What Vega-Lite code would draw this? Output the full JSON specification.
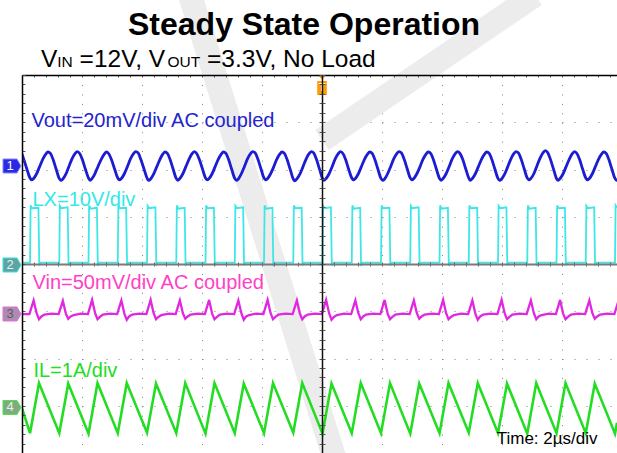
{
"$schema": "https://vega.github.io/schema/vega-lite/v6.json",
"width": 595, "height": 378,
"autosize": {"type": "none"},
"padding": {"left": 22, "top": 75, "right": 0, "bottom": 0},
"background": "#ffffff",
"config": {"view": {"stroke": null}, "text": {"font": "Liberation Sans"}},
"datasets": {
"mark": [{"g":"a","t":-4.4,"v":5.693},{"g":"a","t":0.433,"v":-4.148},{"g":"b","t":7.1,"v":5.693},{"g":"b","t":0,"v":2.624}],
"lx": [{"t":-10,"v":0.03},
{"t":-9.733,"v":0.03},{"t":-9.713,"v":1.24},{"t":-9.663,"v":1.18},{"t":-9.453,"v":1.19},{"t":-9.423,"v":-0.03},{"t":-9.373,"v":0.03},
{"t":-8.758,"v":0.03},{"t":-8.738,"v":1.23},{"t":-8.688,"v":1.18},{"t":-8.478,"v":1.2},{"t":-8.448,"v":-0.03},{"t":-8.398,"v":0.03},
{"t":-7.783,"v":0.03},{"t":-7.763,"v":1.24},{"t":-7.713,"v":1.17},{"t":-7.503,"v":1.19},{"t":-7.473,"v":-0.04},{"t":-7.423,"v":0.03},
{"t":-6.808,"v":0.03},{"t":-6.788,"v":1.24},{"t":-6.738,"v":1.18},{"t":-6.528,"v":1.19},{"t":-6.498,"v":-0.03},{"t":-6.448,"v":0.03},
{"t":-5.833,"v":0.03},{"t":-5.813,"v":1.23},{"t":-5.763,"v":1.18},{"t":-5.553,"v":1.2},{"t":-5.523,"v":-0.03},{"t":-5.473,"v":0.03},
{"t":-4.858,"v":0.03},{"t":-4.838,"v":1.24},{"t":-4.788,"v":1.17},{"t":-4.578,"v":1.19},{"t":-4.548,"v":-0.04},{"t":-4.498,"v":0.03},
{"t":-3.883,"v":0.03},{"t":-3.863,"v":1.24},{"t":-3.813,"v":1.18},{"t":-3.603,"v":1.19},{"t":-3.573,"v":-0.03},{"t":-3.523,"v":0.03},
{"t":-2.908,"v":0.03},{"t":-2.888,"v":1.23},{"t":-2.838,"v":1.18},{"t":-2.628,"v":1.2},{"t":-2.598,"v":-0.03},{"t":-2.548,"v":0.03},
{"t":-1.933,"v":0.03},{"t":-1.913,"v":1.24},{"t":-1.863,"v":1.17},{"t":-1.653,"v":1.19},{"t":-1.623,"v":-0.04},{"t":-1.573,"v":0.03},
{"t":-0.958,"v":0.03},{"t":-0.938,"v":1.24},{"t":-0.888,"v":1.18},{"t":-0.678,"v":1.19},{"t":-0.648,"v":-0.03},{"t":-0.598,"v":0.03},
{"t":0.017,"v":0.03},{"t":0.037,"v":1.23},{"t":0.087,"v":1.18},{"t":0.297,"v":1.2},{"t":0.327,"v":-0.03},{"t":0.377,"v":0.03},
{"t":0.992,"v":0.03},{"t":1.012,"v":1.24},{"t":1.062,"v":1.17},{"t":1.272,"v":1.19},{"t":1.302,"v":-0.04},{"t":1.352,"v":0.03},
{"t":1.967,"v":0.03},{"t":1.987,"v":1.24},{"t":2.037,"v":1.18},{"t":2.247,"v":1.19},{"t":2.277,"v":-0.03},{"t":2.327,"v":0.03},
{"t":2.942,"v":0.03},{"t":2.962,"v":1.23},{"t":3.012,"v":1.18},{"t":3.222,"v":1.2},{"t":3.252,"v":-0.03},{"t":3.302,"v":0.03},
{"t":3.917,"v":0.03},{"t":3.937,"v":1.24},{"t":3.987,"v":1.17},{"t":4.197,"v":1.19},{"t":4.227,"v":-0.04},{"t":4.277,"v":0.03},
{"t":4.892,"v":0.03},{"t":4.912,"v":1.24},{"t":4.962,"v":1.18},{"t":5.172,"v":1.19},{"t":5.202,"v":-0.03},{"t":5.252,"v":0.03},
{"t":5.867,"v":0.03},{"t":5.887,"v":1.23},{"t":5.937,"v":1.18},{"t":6.147,"v":1.2},{"t":6.177,"v":-0.03},{"t":6.227,"v":0.03},
{"t":6.842,"v":0.03},{"t":6.862,"v":1.24},{"t":6.912,"v":1.17},{"t":7.122,"v":1.19},{"t":7.152,"v":-0.04},{"t":7.202,"v":0.03},
{"t":7.817,"v":0.03},{"t":7.837,"v":1.24},{"t":7.887,"v":1.18},{"t":8.097,"v":1.19},{"t":8.127,"v":-0.03},{"t":8.177,"v":0.03},
{"t":8.792,"v":0.03},{"t":8.812,"v":1.23},{"t":8.862,"v":1.18},{"t":9.072,"v":1.2},{"t":9.102,"v":-0.03},{"t":9.152,"v":0.03},
{"t":9.767,"v":0.03},{"t":9.787,"v":1.24},{"t":9.833,"v":1.19}],
"il": [{"t":-10,"v":-3.05},
{"t":-9.733,"v":-3.58},{"t":-9.433,"v":-2.52},{"t":-8.758,"v":-3.58},{"t":-8.458,"v":-2.53},{"t":-7.783,"v":-3.59},{"t":-7.483,"v":-2.52},
{"t":-6.808,"v":-3.58},{"t":-6.508,"v":-2.52},{"t":-5.833,"v":-3.57},{"t":-5.533,"v":-2.53},{"t":-4.858,"v":-3.58},{"t":-4.558,"v":-2.52},
{"t":-3.883,"v":-3.59},{"t":-3.583,"v":-2.52},{"t":-2.908,"v":-3.58},{"t":-2.608,"v":-2.53},{"t":-1.933,"v":-3.58},{"t":-1.633,"v":-2.52},
{"t":-0.958,"v":-3.57},{"t":-0.658,"v":-2.52},{"t":0.017,"v":-3.59},{"t":0.317,"v":-2.53},{"t":0.992,"v":-3.58},{"t":1.292,"v":-2.52},
{"t":1.967,"v":-3.58},{"t":2.267,"v":-2.52},{"t":2.942,"v":-3.59},{"t":3.242,"v":-2.53},{"t":3.917,"v":-3.58},{"t":4.217,"v":-2.52},
{"t":4.892,"v":-3.57},{"t":5.192,"v":-2.52},{"t":5.867,"v":-3.58},{"t":6.167,"v":-2.53},{"t":6.842,"v":-3.59},{"t":7.142,"v":-2.52},
{"t":7.817,"v":-3.58},{"t":8.117,"v":-2.52},{"t":8.792,"v":-3.58},{"t":9.092,"v":-2.53},{"t":9.767,"v":-3.59},{"t":9.833,"v":-3.36}],
"vin": [{"t":-10,"v":-1.06},
{"t":-9.753,"v":-1.06},{"t":-9.613,"v":-0.77},{"t":-9.513,"v":-1.04},{"t":-9.433,"v":-1.17},{"t":-9.353,"v":-1.11},{"t":-9.253,"v":-1.07},{"t":-9.013,"v":-1.05},
{"t":-8.778,"v":-1.06},{"t":-8.638,"v":-0.78},{"t":-8.538,"v":-1.05},{"t":-8.458,"v":-1.16},{"t":-8.378,"v":-1.11},{"t":-8.278,"v":-1.08},{"t":-8.038,"v":-1.05},
{"t":-7.803,"v":-1.06},{"t":-7.663,"v":-0.76},{"t":-7.563,"v":-1.04},{"t":-7.483,"v":-1.17},{"t":-7.403,"v":-1.12},{"t":-7.303,"v":-1.07},{"t":-7.063,"v":-1.05},
{"t":-6.828,"v":-1.06},{"t":-6.688,"v":-0.77},{"t":-6.588,"v":-1.05},{"t":-6.508,"v":-1.18},{"t":-6.428,"v":-1.11},{"t":-6.328,"v":-1.07},{"t":-6.088,"v":-1.05},
{"t":-5.853,"v":-1.06},{"t":-5.713,"v":-0.76},{"t":-5.613,"v":-1.04},{"t":-5.533,"v":-1.17},{"t":-5.453,"v":-1.12},{"t":-5.353,"v":-1.08},{"t":-5.113,"v":-1.05},
{"t":-4.878,"v":-1.06},{"t":-4.738,"v":-0.77},{"t":-4.638,"v":-1.04},{"t":-4.558,"v":-1.16},{"t":-4.478,"v":-1.11},{"t":-4.378,"v":-1.07},{"t":-4.138,"v":-1.05},
{"t":-3.903,"v":-1.06},{"t":-3.763,"v":-0.76},{"t":-3.663,"v":-1.05},{"t":-3.583,"v":-1.17},{"t":-3.503,"v":-1.12},{"t":-3.403,"v":-1.07},{"t":-3.163,"v":-1.05},
{"t":-2.928,"v":-1.06},{"t":-2.788,"v":-0.77},{"t":-2.688,"v":-1.04},{"t":-2.608,"v":-1.18},{"t":-2.528,"v":-1.11},{"t":-2.428,"v":-1.08},{"t":-2.188,"v":-1.05},
{"t":-1.953,"v":-1.06},{"t":-1.813,"v":-0.76},{"t":-1.713,"v":-1.04},{"t":-1.633,"v":-1.17},{"t":-1.553,"v":-1.12},{"t":-1.453,"v":-1.07},{"t":-1.213,"v":-1.05},
{"t":-0.978,"v":-1.06},{"t":-0.838,"v":-0.77},{"t":-0.738,"v":-1.05},{"t":-0.658,"v":-1.17},{"t":-0.578,"v":-1.11},{"t":-0.478,"v":-1.07},{"t":-0.238,"v":-1.05},
{"t":-0.003,"v":-1.06},{"t":0.137,"v":-0.76},{"t":0.237,"v":-1.04},{"t":0.317,"v":-1.18},{"t":0.397,"v":-1.12},{"t":0.497,"v":-1.08},{"t":0.737,"v":-1.05},
{"t":0.972,"v":-1.06},{"t":1.112,"v":-0.77},{"t":1.212,"v":-1.04},{"t":1.292,"v":-1.17},{"t":1.372,"v":-1.11},{"t":1.472,"v":-1.07},{"t":1.712,"v":-1.05},
{"t":1.947,"v":-1.06},{"t":2.087,"v":-0.76},{"t":2.187,"v":-1.05},{"t":2.267,"v":-1.17},{"t":2.347,"v":-1.12},{"t":2.447,"v":-1.07},{"t":2.687,"v":-1.05},
{"t":2.922,"v":-1.06},{"t":3.062,"v":-0.77},{"t":3.162,"v":-1.04},{"t":3.242,"v":-1.16},{"t":3.322,"v":-1.11},{"t":3.422,"v":-1.07},{"t":3.662,"v":-1.05},
{"t":3.897,"v":-1.06},{"t":4.037,"v":-0.76},{"t":4.137,"v":-1.04},{"t":4.217,"v":-1.17},{"t":4.297,"v":-1.12},{"t":4.397,"v":-1.08},{"t":4.637,"v":-1.05},
{"t":4.872,"v":-1.06},{"t":5.012,"v":-0.77},{"t":5.112,"v":-1.05},{"t":5.192,"v":-1.18},{"t":5.272,"v":-1.11},{"t":5.372,"v":-1.07},{"t":5.612,"v":-1.05},
{"t":5.847,"v":-1.06},{"t":5.987,"v":-0.76},{"t":6.087,"v":-1.04},{"t":6.167,"v":-1.17},{"t":6.247,"v":-1.12},{"t":6.347,"v":-1.07},{"t":6.587,"v":-1.05},
{"t":6.822,"v":-1.06},{"t":6.962,"v":-0.77},{"t":7.062,"v":-1.04},{"t":7.142,"v":-1.17},{"t":7.222,"v":-1.11},{"t":7.322,"v":-1.08},{"t":7.562,"v":-1.05},
{"t":7.797,"v":-1.06},{"t":7.937,"v":-0.76},{"t":8.037,"v":-1.05},{"t":8.117,"v":-1.17},{"t":8.197,"v":-1.12},{"t":8.297,"v":-1.07},{"t":8.537,"v":-1.05},
{"t":8.772,"v":-1.06},{"t":8.912,"v":-0.77},{"t":9.012,"v":-1.04},{"t":9.092,"v":-1.16},{"t":9.172,"v":-1.11},{"t":9.272,"v":-1.07},{"t":9.512,"v":-1.05},
{"t":9.747,"v":-1.06},{"t":9.887,"v":-0.77}],
"vout": [{"t":-10,"v":2.33},{"t":-9.938,"v":2.21},{"t":-9.838,"v":2.01},
{"t":-9.733,"v":1.82},{"t":-9.683,"v":1.78},{"t":-9.613,"v":1.81},{"t":-9.513,"v":1.91},{"t":-9.413,"v":2.06},{"t":-9.313,"v":2.21},{"t":-9.213,"v":2.32},{"t":-9.133,"v":2.37},{"t":-9.053,"v":2.34},{"t":-8.963,"v":2.21},{"t":-8.863,"v":2.01},
{"t":-8.758,"v":1.81},{"t":-8.708,"v":1.77},{"t":-8.638,"v":1.8},{"t":-8.538,"v":1.9},{"t":-8.438,"v":2.06},{"t":-8.338,"v":2.22},{"t":-8.238,"v":2.33},{"t":-8.158,"v":2.38},{"t":-8.078,"v":2.34},{"t":-7.988,"v":2.21},{"t":-7.888,"v":2.01},
{"t":-7.783,"v":1.82},{"t":-7.733,"v":1.77},{"t":-7.663,"v":1.81},{"t":-7.563,"v":1.92},{"t":-7.463,"v":2.07},{"t":-7.363,"v":2.21},{"t":-7.263,"v":2.32},{"t":-7.183,"v":2.37},{"t":-7.103,"v":2.33},{"t":-7.013,"v":2.2},{"t":-6.913,"v":2.01},
{"t":-6.808,"v":1.82},{"t":-6.758,"v":1.78},{"t":-6.688,"v":1.81},{"t":-6.588,"v":1.91},{"t":-6.488,"v":2.06},{"t":-6.388,"v":2.22},{"t":-6.288,"v":2.33},{"t":-6.208,"v":2.38},{"t":-6.128,"v":2.35},{"t":-6.038,"v":2.21},{"t":-5.938,"v":2.02},
{"t":-5.833,"v":1.82},{"t":-5.783,"v":1.77},{"t":-5.713,"v":1.8},{"t":-5.613,"v":1.9},{"t":-5.513,"v":2.05},{"t":-5.413,"v":2.2},{"t":-5.313,"v":2.32},{"t":-5.233,"v":2.37},{"t":-5.153,"v":2.34},{"t":-5.063,"v":2.21},{"t":-4.963,"v":2.01},
{"t":-4.858,"v":1.81},{"t":-4.808,"v":1.77},{"t":-4.738,"v":1.81},{"t":-4.638,"v":1.91},{"t":-4.538,"v":2.06},{"t":-4.438,"v":2.21},{"t":-4.338,"v":2.33},{"t":-4.258,"v":2.38},{"t":-4.178,"v":2.34},{"t":-4.088,"v":2.21},{"t":-3.988,"v":2.02},
{"t":-3.883,"v":1.82},{"t":-3.833,"v":1.78},{"t":-3.763,"v":1.81},{"t":-3.663,"v":1.91},{"t":-3.563,"v":2.06},{"t":-3.463,"v":2.21},{"t":-3.363,"v":2.32},{"t":-3.283,"v":2.37},{"t":-3.203,"v":2.34},{"t":-3.113,"v":2.21},{"t":-3.013,"v":2.01},
{"t":-2.908,"v":1.81},{"t":-2.858,"v":1.77},{"t":-2.788,"v":1.8},{"t":-2.688,"v":1.91},{"t":-2.588,"v":2.06},{"t":-2.488,"v":2.22},{"t":-2.388,"v":2.33},{"t":-2.308,"v":2.38},{"t":-2.228,"v":2.35},{"t":-2.138,"v":2.22},{"t":-2.038,"v":2.02},
{"t":-1.933,"v":1.82},{"t":-1.883,"v":1.78},{"t":-1.813,"v":1.81},{"t":-1.713,"v":1.91},{"t":-1.613,"v":2.05},{"t":-1.513,"v":2.21},{"t":-1.413,"v":2.32},{"t":-1.333,"v":2.37},{"t":-1.253,"v":2.34},{"t":-1.163,"v":2.21},{"t":-1.063,"v":2.01},
{"t":-0.958,"v":1.8},{"t":-0.908,"v":1.76},{"t":-0.838,"v":1.8},{"t":-0.738,"v":1.9},{"t":-0.638,"v":2.05},{"t":-0.538,"v":2.21},{"t":-0.438,"v":2.33},{"t":-0.358,"v":2.38},{"t":-0.278,"v":2.35},{"t":-0.188,"v":2.22},{"t":-0.088,"v":2.02},
{"t":0.017,"v":1.81},{"t":0.067,"v":1.77},{"t":0.137,"v":1.81},{"t":0.237,"v":1.91},{"t":0.337,"v":2.06},{"t":0.437,"v":2.22},{"t":0.537,"v":2.33},{"t":0.617,"v":2.38},{"t":0.697,"v":2.34},{"t":0.787,"v":2.21},{"t":0.887,"v":2.01},
{"t":0.992,"v":1.82},{"t":1.042,"v":1.78},{"t":1.112,"v":1.81},{"t":1.212,"v":1.91},{"t":1.312,"v":2.06},{"t":1.412,"v":2.21},{"t":1.512,"v":2.32},{"t":1.592,"v":2.37},{"t":1.672,"v":2.34},{"t":1.762,"v":2.21},{"t":1.862,"v":2.01},
{"t":1.967,"v":1.81},{"t":2.017,"v":1.77},{"t":2.087,"v":1.8},{"t":2.187,"v":1.91},{"t":2.287,"v":2.06},{"t":2.387,"v":2.22},{"t":2.487,"v":2.33},{"t":2.567,"v":2.38},{"t":2.647,"v":2.35},{"t":2.737,"v":2.22},{"t":2.837,"v":2.02},
{"t":2.942,"v":1.82},{"t":2.992,"v":1.78},{"t":3.062,"v":1.81},{"t":3.162,"v":1.91},{"t":3.262,"v":2.05},{"t":3.362,"v":2.21},{"t":3.462,"v":2.32},{"t":3.542,"v":2.37},{"t":3.622,"v":2.34},{"t":3.712,"v":2.21},{"t":3.812,"v":2.01},
{"t":3.917,"v":1.81},{"t":3.967,"v":1.77},{"t":4.037,"v":1.81},{"t":4.137,"v":1.91},{"t":4.237,"v":2.06},{"t":4.337,"v":2.22},{"t":4.437,"v":2.33},{"t":4.517,"v":2.38},{"t":4.597,"v":2.34},{"t":4.687,"v":2.22},{"t":4.787,"v":2.02},
{"t":4.892,"v":1.82},{"t":4.942,"v":1.77},{"t":5.012,"v":1.81},{"t":5.112,"v":1.91},{"t":5.212,"v":2.06},{"t":5.312,"v":2.21},{"t":5.412,"v":2.32},{"t":5.492,"v":2.37},{"t":5.572,"v":2.34},{"t":5.662,"v":2.21},{"t":5.762,"v":2.01},
{"t":5.867,"v":1.81},{"t":5.917,"v":1.77},{"t":5.987,"v":1.8},{"t":6.087,"v":1.9},{"t":6.187,"v":2.05},{"t":6.287,"v":2.21},{"t":6.387,"v":2.33},{"t":6.467,"v":2.38},{"t":6.547,"v":2.35},{"t":6.637,"v":2.22},{"t":6.737,"v":2.02},
{"t":6.842,"v":1.82},{"t":6.892,"v":1.78},{"t":6.962,"v":1.81},{"t":7.062,"v":1.91},{"t":7.162,"v":2.07},{"t":7.262,"v":2.23},{"t":7.362,"v":2.35},{"t":7.442,"v":2.4},{"t":7.522,"v":2.36},{"t":7.612,"v":2.22},{"t":7.712,"v":2.02},
{"t":7.817,"v":1.81},{"t":7.867,"v":1.77},{"t":7.937,"v":1.81},{"t":8.037,"v":1.91},{"t":8.137,"v":2.06},{"t":8.237,"v":2.21},{"t":8.337,"v":2.33},{"t":8.417,"v":2.38},{"t":8.497,"v":2.34},{"t":8.587,"v":2.21},{"t":8.687,"v":2.01},
{"t":8.792,"v":1.82},{"t":8.842,"v":1.78},{"t":8.912,"v":1.81},{"t":9.012,"v":1.91},{"t":9.112,"v":2.06},{"t":9.212,"v":2.21},{"t":9.312,"v":2.32},{"t":9.392,"v":2.37},{"t":9.472,"v":2.34},{"t":9.562,"v":2.21},{"t":9.662,"v":2.01},
{"t":9.767,"v":1.81},{"t":9.817,"v":1.77},{"t":9.887,"v":1.81}],
"labels": [{"t":-9.683,"v":2.91,"ch":"vout","txt":"Vout=20mV/div AC coupled"},{"t":-9.65,"v":1.228,"ch":"lx","txt":"LX=10V/div"},{"t":-9.65,"v":-0.529,"ch":"vin","txt":"Vin=50mV/div AC coupled"},{"t":-9.62,"v":-2.392,"ch":"il","txt":"IL=1A/div"}],
"timelabel": [{"t":5.823,"v":-3.81,"txt":"Time: 2µs/div"}],
"title": [{"t":-6.467,"v":4.857,"txt":"Steady State Operation"}],
"sub": [{"t":-9.367,"v":4.159,"txt":"V"},{"t":-8.08,"v":4.159,"txt":"=12V, V"},{"t":-3.833,"v":4.159,"txt":"=3.3V, No Load"}],
"subscript": [{"t":-8.823,"v":4.159,"txt":"IN"},{"t":-5.15,"v":4.159,"txt":"OUT"}],
"chmarks": [{"t":-10.333,"v":2.074,"ch":"1"},{"t":-10.333,"v":-0.021,"ch":"2"},{"t":-10.333,"v":-1.058,"ch":"3"},{"t":-10.333,"v":-3.037,"ch":"4"}],
"chnums": [{"t":-10.4,"v":2.074,"ch":"1"},{"t":-10.4,"v":-0.021,"ch":"2"},{"t":-10.4,"v":-1.058,"ch":"3"},{"t":-10.4,"v":-3.037,"ch":"4"}],
"trig": [{"t":0,"v":3.788,"txt":"T"}],
"trigtext": [{"t":0,"v":3.72,"txt":"T"}]
},
"encoding": {
"x": {"field": "t", "type": "quantitative", "scale": {"domain": [-10, 9.8333], "nice": false, "zero": false}, "axis": null},
"y": {"field": "v", "type": "quantitative", "scale": {"domain": [-4, 4], "nice": false, "zero": false}, "axis": null}
},
"layer": [
{"data": {"name": "mark"}, "mark": {"type": "line", "color": "#ececec", "strokeWidth": 24, "strokeCap": "butt", "clip": false},
 "encoding": {"detail": {"field": "g", "type": "nominal"}}},
{"data": {"name": "il"}, "mark": {"type": "line", "color": "#22dd22", "strokeWidth": 2.6, "clip": true},
 "encoding": {
 "x": {"field": "t", "type": "quantitative", "scale": {"domain": [-10, 9.8333], "nice": false, "zero": false},
  "axis": {"orient": "bottom", "values": [-8,-6,-4,-2,2,4,6,8], "grid": true, "gridColor": "#808080", "gridDash": [1, 8.45], "gridWidth": 1, "ticks": false, "labels": false, "domain": false, "title": null, "zindex": 0}},
 "y": {"field": "v", "type": "quantitative", "scale": {"domain": [-4, 4], "nice": false, "zero": false},
  "axis": {"orient": "left", "values": [-3,-2,-1,1,2,3], "grid": true, "gridColor": "#808080", "gridDash": [1, 11], "gridWidth": 1, "ticks": false, "labels": false, "domain": false, "title": null, "zindex": 0}}}},
{"data": {"name": "vin"}, "mark": {"type": "line", "color": "#e028e0", "strokeWidth": 2.3, "clip": true},
 "encoding": {
 "x": {"field": "t", "type": "quantitative", "scale": {"domain": [-10, 9.8333], "nice": false, "zero": false},
  "axis": {"orient": "bottom", "offset": -378, "values": [-10,-9.6,-9.2,-8.8,-8.4,-8,-7.6,-7.2,-6.8,-6.4,-6,-5.6,-5.2,-4.8,-4.4,-4,-3.6,-3.2,-2.8,-2.4,-2,-1.6,-1.2,-0.8,-0.4,0,0.4,0.8,1.2,1.6,2,2.4,2.8,3.2,3.6,4,4.4,4.8,5.2,5.6,6,6.4,6.8,7.2,7.6,8,8.4,8.8,9.2,9.6], "grid": false, "domain": true, "domainColor": "#000000", "domainWidth": 1.5, "ticks": true, "tickColor": "#555555", "tickSize": 2, "tickWidth": 1, "labels": false, "title": null, "zindex": 1}},
 "y": {"field": "v", "type": "quantitative", "scale": {"domain": [-4, 4], "nice": false, "zero": false},
  "axis": {"orient": "right", "offset": -595, "values": [-4,-3.8,-3.6,-3.4,-3.2,-3,-2.8,-2.6,-2.4,-2.2,-2,-1.8,-1.6,-1.4,-1.2,-1,-0.8,-0.6,-0.4,-0.2,0,0.2,0.4,0.6,0.8,1,1.2,1.4,1.6,1.8,2,2.2,2.4,2.6,2.8,3,3.2,3.4,3.6,3.8,4], "grid": false, "domain": true, "domainColor": "#000000", "domainWidth": 1.5, "ticks": true, "tickColor": "#555555", "tickSize": 3, "tickWidth": 1, "labels": false, "title": null, "zindex": 1}}}},
{"data": {"name": "lx"}, "mark": {"type": "line", "color": "#3fe6e6", "strokeWidth": 1.8, "clip": true},
 "encoding": {
 "x": {"field": "t", "type": "quantitative", "scale": {"domain": [-10, 9.8333], "nice": false, "zero": false},
  "axis": {"orient": "bottom", "offset": -189, "values": [-10,-9.6,-9.2,-8.8,-8.4,-8,-7.6,-7.2,-6.8,-6.4,-6,-5.6,-5.2,-4.8,-4.4,-4,-3.6,-3.2,-2.8,-2.4,-2,-1.6,-1.2,-0.8,-0.4,0,0.4,0.8,1.2,1.6,2,2.4,2.8,3.2,3.6,4,4.4,4.8,5.2,5.6,6,6.4,6.8,7.2,7.6,8,8.4,8.8,9.2,9.6], "grid": false, "domain": true, "domainColor": "#7a7a7a", "domainWidth": 2, "ticks": true, "tickColor": "#666666", "tickSize": 2, "tickWidth": 1, "labels": false, "title": null, "zindex": 1}},
 "y": {"field": "v", "type": "quantitative", "scale": {"domain": [-4, 4], "nice": false, "zero": false},
  "axis": {"orient": "left", "offset": -300, "values": [-4,-3.8,-3.6,-3.4,-3.2,-3,-2.8,-2.6,-2.4,-2.2,-2,-1.8,-1.6,-1.4,-1.2,-1,-0.8,-0.6,-0.4,-0.2,0,0.2,0.4,0.6,0.8,1,1.2,1.4,1.6,1.8,2,2.2,2.4,2.6,2.8,3,3.2,3.4,3.6,3.8,4], "grid": false, "domain": true, "domainColor": "#111111", "domainWidth": 1.5, "ticks": true, "tickColor": "#555555", "tickSize": 3, "tickWidth": 1, "labels": false, "title": null, "zindex": 1}}}},
{"data": {"name": "vout"}, "mark": {"type": "line", "color": "#1c1cd2", "strokeWidth": 2.8, "interpolate": "monotone", "clip": true},
 "encoding": {
 "x": {"field": "t", "type": "quantitative", "scale": {"domain": [-10, 9.8333], "nice": false, "zero": false},
  "axis": {"orient": "top", "offset": -189, "values": [-10,-9.6,-9.2,-8.8,-8.4,-8,-7.6,-7.2,-6.8,-6.4,-6,-5.6,-5.2,-4.8,-4.4,-4,-3.6,-3.2,-2.8,-2.4,-2,-1.6,-1.2,-0.8,-0.4,0,0.4,0.8,1.2,1.6,2,2.4,2.8,3.2,3.6,4,4.4,4.8,5.2,5.6,6,6.4,6.8,7.2,7.6,8,8.4,8.8,9.2,9.6], "grid": false, "domain": false, "ticks": true, "tickColor": "#666666", "tickSize": 2, "tickWidth": 1, "labels": false, "title": null, "zindex": 1}},
 "y": {"field": "v", "type": "quantitative", "scale": {"domain": [-4, 4], "nice": false, "zero": false},
  "axis": {"orient": "right", "offset": -295, "values": [-4,-3.8,-3.6,-3.4,-3.2,-3,-2.8,-2.6,-2.4,-2.2,-2,-1.8,-1.6,-1.4,-1.2,-1,-0.8,-0.6,-0.4,-0.2,0,0.2,0.4,0.6,0.8,1,1.2,1.4,1.6,1.8,2,2.2,2.4,2.6,2.8,3,3.2,3.4,3.6,3.8,4], "grid": false, "domain": false, "ticks": true, "tickColor": "#555555", "tickSize": 3, "tickWidth": 1, "labels": false, "title": null, "zindex": 1}}}},
{"data": {"name": "labels"}, "mark": {"type": "text", "fontSize": 20, "align": "left", "baseline": "alphabetic", "clip": false},
 "encoding": {"text": {"field": "txt"}, "color": {"field": "ch", "type": "nominal", "scale": {"domain": ["vout", "lx", "vin", "il"], "range": ["#2424cc", "#33e8e8", "#ff3fc8", "#22dd22"]}, "legend": null}}},
{"data": {"name": "timelabel"}, "mark": {"type": "text", "fontSize": 17, "align": "left", "baseline": "alphabetic", "color": "#000000", "clip": false},
 "encoding": {"text": {"field": "txt"}}},
{"data": {"name": "title"}, "mark": {"type": "text", "fontSize": 32, "fontWeight": "bold", "align": "left", "baseline": "alphabetic", "color": "#000000", "clip": false},
 "encoding": {"text": {"field": "txt"}}},
{"data": {"name": "sub"}, "mark": {"type": "text", "fontSize": 24.5, "align": "left", "baseline": "alphabetic", "color": "#000000", "clip": false},
 "encoding": {"text": {"field": "txt"}}},
{"data": {"name": "subscript"}, "mark": {"type": "text", "fontSize": 15.5, "align": "left", "baseline": "alphabetic", "color": "#000000", "clip": false},
 "encoding": {"text": {"field": "txt"}}},
{"data": {"name": "chmarks"}, "mark": {"type": "point", "filled": true, "opacity": 1, "size": 324, "strokeWidth": 1, "shape": "M-1,-0.78L0.55,-0.78L1,0L0.55,0.78L-1,0.78Z", "clip": false},
 "encoding": {
  "fill": {"field": "ch", "type": "nominal", "scale": {"domain": ["1", "2", "3", "4"], "range": ["#2a2ae6", "#5fa3a3", "#b08ab0", "#80ab80"]}, "legend": null},
  "stroke": {"field": "ch", "type": "nominal", "scale": {"domain": ["1", "2", "3", "4"], "range": ["#8c8cff", "#3ae0e0", "#e070e0", "#50e050"]}, "legend": null}}},
{"data": {"name": "chnums"}, "mark": {"type": "text", "fontSize": 13, "align": "center", "baseline": "middle", "clip": false},
 "encoding": {"text": {"field": "ch"}, "color": {"field": "ch", "type": "nominal", "scale": {"domain": ["1", "2", "3", "4"], "range": ["#ffffff", "#dff5f5", "#5e5e5e", "#e0f5e0"]}, "legend": null}}},
{"data": {"name": "trig"}, "mark": {"type": "point", "filled": true, "opacity": 1, "size": 400, "color": "#ff9c00", "shape": "M-0.42,-1L0.42,-1L0,-0.55Z M-0.48,-0.4L0.48,-0.4L0.48,1L-0.48,1Z", "clip": false}},
{"data": {"name": "trigtext"}, "mark": {"type": "text", "fontSize": 11, "fontWeight": "bold", "align": "center", "baseline": "middle", "color": "#ffffff", "clip": false},
 "encoding": {"text": {"field": "txt"}}}
],
"resolve": {"axis": {"x": "independent", "y": "independent"}, "scale": {"color": "independent", "fill": "independent", "stroke": "independent"}}
}
